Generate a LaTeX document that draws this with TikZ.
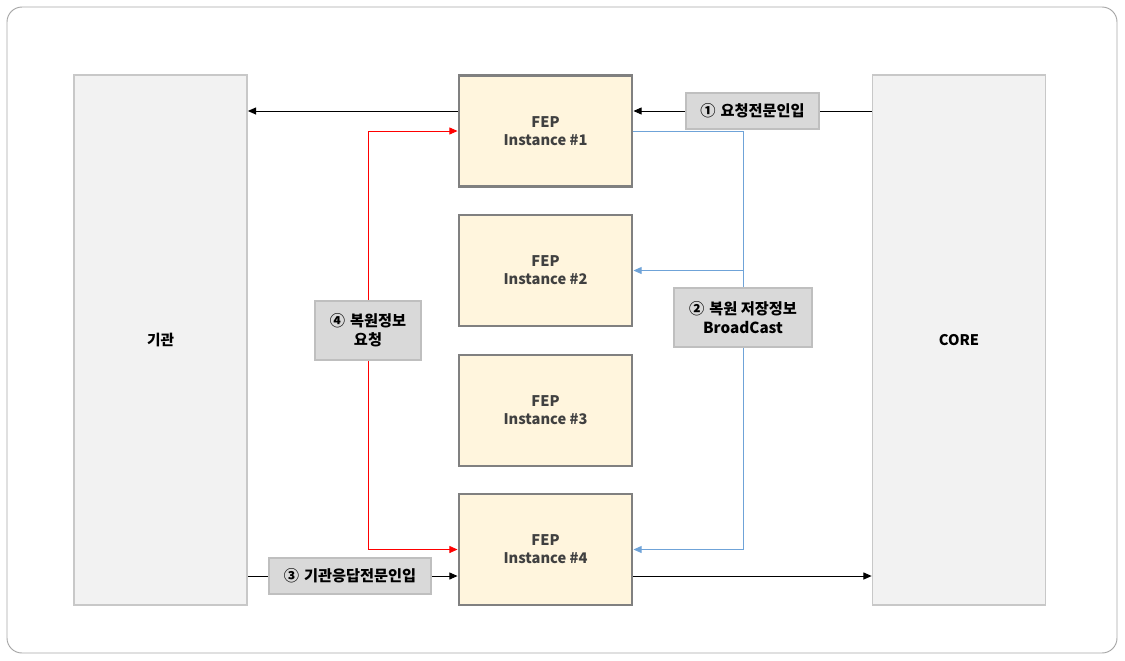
\documentclass[tikz,border=0pt]{standalone}
\usepackage{fontspec}
\setmainfont{Noto Sans CJK KR}
\usetikzlibrary{positioning}
\usetikzlibrary{arrows.meta}
\definecolor{framegray}{HTML}{A6A6A6}
\definecolor{sidefill}{HTML}{F2F2F2}
\definecolor{sidedraw}{HTML}{C8C8C8}
\definecolor{fepfill}{HTML}{FFF5DD}
\definecolor{fepdraw}{HTML}{808080}
\definecolor{lblfill}{HTML}{D9D9D9}
\definecolor{lbldraw}{HTML}{BFBFBF}
\definecolor{bcast}{HTML}{6FA3D8}
\definecolor{feptext}{HTML}{404040}
\newcommand{\px}{0.03cm}
\tikzset{>={Triangle[length=7pt,width=6pt]}}
\tikzset{
	% big side systems
	sidebox/.style={draw=sidedraw,line width=1.5pt,fill=sidefill,inner sep=0pt,
		minimum width=173*\px,minimum height=530*\px,font=\fontsize{12.5}{15}\selectfont\bfseries},
	% FEP instances
	fepbox/.style={draw=fepdraw,line width=2.5pt,fill=fepfill,inner sep=0pt,align=center,
		minimum width=173*\px,minimum height=111*\px,text=feptext,font=\fontsize{12.5}{15.5}\selectfont\bfseries},
	% step labels
	lblbox/.style={draw=lbldraw,line width=1.5pt,fill=lblfill,inner sep=0pt,align=center,
		font=\fontsize{13}{16}\selectfont\bfseries},
	% line style
	msgline/.style={black,line width=0.8pt},
	redline/.style={red,line width=0.8pt},
	blueline/.style={bcast,line width=0.8pt},
}
\begin{document}
\begin{tikzpicture}[x=\px,y=-\px]
	\useasboundingbox (0,0) rectangle (1125,660);
	\draw[framegray,line width=0.8pt,rounded corners=15*\px] (7,7) rectangle (1117,653);
	
	\node[sidebox] (inst) at (160.5,340) {기관};
	\node[sidebox] (core) at (959,340) {CORE};
	
	\node[fepbox] (fep1) at (545.5,131) {FEP\\Instance \#1};
	\node[fepbox] (fep2) at (545.5,270.5) {FEP\\Instance \#2};
	\node[fepbox] (fep3) at (545.5,410.5) {FEP\\Instance \#3};
	\node[fepbox] (fep4) at (545.5,549.5) {FEP\\Instance \#4};
	
	\node[lblbox,minimum width=133*\px,minimum height=36*\px] (lbl1) at (752.5,111) {①\,\,요청전문인입};
	\node[lblbox,minimum width=138*\px,minimum height=59*\px] (lbl2) at (743,317.5) {②\,\,복원 저장정보\\BroadCast};
	\node[lblbox,minimum width=162*\px,minimum height=36*\px] (lbl3) at (350,576) {③\,\,기관응답전문인입};
	\node[lblbox,minimum width=106*\px,minimum height=59*\px] (lbl4) at (368,330.5) {④\,\,복원정보\\요청};
	
	% request from CORE
	\draw[msgline] (core.west |- lbl1.east) -- (lbl1.east);
	\draw[msgline,->] (lbl1.west) -- (fep1.east |- lbl1.west);
	\draw[msgline,->] (fep1.west |- lbl1.west) -- (inst.east |- lbl1.west);
	
	% broadcast
	\draw[blueline] (fep1.east) -| (lbl2.north);
	\draw[blueline,->] (lbl2.north |- fep2.east) -- (fep2.east);
	\draw[blueline,->] (lbl2.south) |- (fep4.east);
	
	% response from 기관
	\draw[msgline] (inst.east |- lbl3.west) -- (lbl3.west);
	\draw[msgline,->] (lbl3.east) -- (fep4.west |- lbl3.east);
	\draw[msgline,->] (fep4.east |- lbl3.east) -- (core.west |- lbl3.east);
	
	% restore request
	\draw[redline,->] (lbl4.north) |- (fep1.west);
	\draw[redline,->] (lbl4.south) |- (fep4.west);
\end{tikzpicture}
\end{document}
